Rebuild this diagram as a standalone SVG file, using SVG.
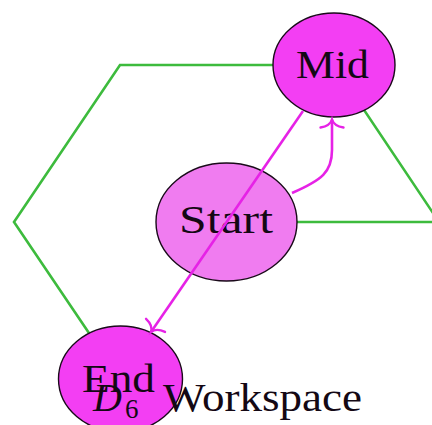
<svg xmlns="http://www.w3.org/2000/svg" width="432" height="425" viewBox="0 0 432 425">
  <style>
    .node { stroke: #1a0a1a; stroke-width: 1.4; }
    .strong { fill: #f33ef3; }
    .light { fill: #f07cf0; }
    .lbl { font-family: "Liberation Serif", "Times New Roman", serif; font-size: 40px; fill: #140814; }
    .green { fill: none; stroke: #3dbb3d; stroke-width: 2.6; stroke-linejoin: miter; }
    .mag { fill: none; stroke: #e622e6; stroke-width: 2.6; }
  </style>
  <defs>
    <marker id="to" markerUnits="userSpaceOnUse" markerWidth="30" markerHeight="30" viewBox="-15 -15 30 30" refX="0" refY="0" orient="auto">
      <path d="M-8,-11.5 Q-6.5,-2 0,0 Q-6.5,2 -8,11.5" fill="none" stroke="#e622e6" stroke-width="2.4" stroke-linecap="round"/>
    </marker>
  </defs>
  <rect width="432" height="425" fill="#ffffff"/>
  <g id="hexagon-connectors">
    <path class="green" d="M227,222 L439,222 L334,65 L120,65 L14,222 L120,379"/>
  </g>
  <g id="node-mid">
    <ellipse class="node strong" cx="334" cy="65" rx="61" ry="52"/>
    <text class="lbl" x="332.5" y="78" text-anchor="middle" textLength="73" lengthAdjust="spacingAndGlyphs">Mid</text>
  </g>
  <g id="node-start">
    <ellipse class="node light" cx="226.5" cy="222" rx="70.5" ry="59"/>
    <text class="lbl" x="226" y="233" text-anchor="middle" textLength="94" lengthAdjust="spacingAndGlyphs">Start</text>
  </g>
  <g id="node-end">
    <ellipse class="node strong" cx="120.5" cy="379" rx="62" ry="53"/>
    <text class="lbl" x="118.5" y="392" text-anchor="middle" textLength="73" lengthAdjust="spacingAndGlyphs">End</text>
  </g>
  <g id="arrows">
    <path class="mag" d="M303,111 L151,332" marker-end="url(#to)"/>
    <path class="mag" d="M292,193 C322,180 332,172 332,150 L332,119.5" marker-end="url(#to)"/>
  </g>
  <g id="title">
    <text class="lbl" x="93" y="411"><tspan font-style="italic">D</tspan><tspan x="125" y="418" font-size="27">6</tspan><tspan x="163" y="411" textLength="199" lengthAdjust="spacingAndGlyphs">Workspace</tspan></text>
  </g>
</svg>
